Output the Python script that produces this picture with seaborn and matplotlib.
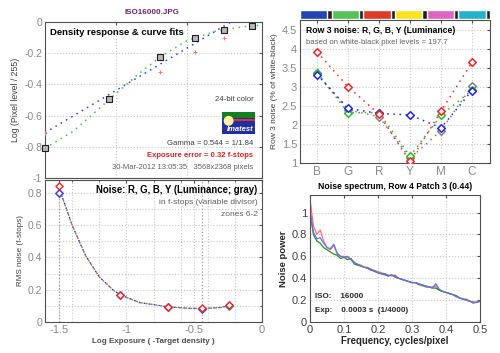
import numpy as np
import pandas as pd
import matplotlib
matplotlib.use("Agg")
import matplotlib.pyplot as plt
import matplotlib.patches as mpatches
import seaborn as sns

sns.set_style("white")
plt.rcParams['font.family'] = ['Liberation Sans', 'DejaVu Sans']
plt.rcParams['xtick.direction'] = 'in'
plt.rcParams['ytick.direction'] = 'in'

# ---- density response (top left) ----
dens_x = [-1.5, -1.05, -0.69, -0.44, -0.24, -0.04]
dens_y = [-0.81, -0.495, -0.225, -0.10, -0.05, -0.025]
target_x = [-1.5, -0.69, -0.44, -0.24]
target_y = [-0.71, -0.32, -0.195, -0.10]
gamma_x = [-1.5, -0.19]
gamma_y = [-0.71, 0.0]
fit_x = [-1.5, -1.3, -1.05, -0.85, -0.69, -0.5, -0.3, -0.1, 0.03]
fit_y = [-0.81, -0.70, -0.50, -0.34, -0.225, -0.12, -0.06, -0.03, -0.02]

# ---- row 3 noise (top right) ----
patches = ['B', 'G', 'R', 'Y', 'M', 'C']
patch_colors = ['#2445b5', '#55c255', '#e03a2a', '#fce31e', '#dc66c0', '#22b2cc']
row3_red = [3.91, 3.00, 2.28, 1.04, 2.36, 3.64]
row3_green = [3.37, 2.32, 2.32, 1.18, 2.25, 2.91]
row3_blue = [3.32, 2.43, 2.30, 2.26, 1.92, 2.90]
row3_lum = [3.35, 2.40, 2.21, 1.12, 1.85, 3.02]

# ---- noise in f-stops (bottom left) ----
zone_x = [-1.5, -1.05, -0.69, -0.44, -0.24]
fs_red = [0.84, 0.17, 0.094, 0.085, 0.104]
fs_green = [0.80, 0.17, 0.092, 0.082, 0.100]
fs_blue = [0.80, 0.168, 0.092, 0.083, 0.106]
fs_lum = [0.80, 0.167, 0.092, 0.082, 0.100]
curve_x = [-1.5, -1.4, -1.3, -1.2, -1.1, -1.05, -0.9, -0.69, -0.55, -0.44, -0.3, -0.24]
curve_y = [0.84, 0.60, 0.41, 0.28, 0.20, 0.17, 0.12, 0.094, 0.085, 0.083, 0.09, 0.104]

# ---- noise spectrum (bottom right) ----
freq = [0.00, 0.01, 0.02, 0.03, 0.04, 0.05, 0.06, 0.07, 0.08, 0.09,
        0.10, 0.11, 0.12, 0.13, 0.14, 0.15, 0.16, 0.17, 0.18, 0.19,
        0.20, 0.21, 0.22, 0.23, 0.24, 0.25, 0.26, 0.27, 0.28, 0.29,
        0.30, 0.31, 0.32, 0.33, 0.34, 0.35, 0.36, 0.37, 0.38, 0.39,
        0.40, 0.41, 0.42, 0.43, 0.44, 0.45, 0.46, 0.47, 0.48, 0.49, 0.50]
spec_red = [1.12, 0.88, 0.80, 0.84, 0.74, 0.68, 0.66, 0.70, 0.62, 0.60,
            0.60, 0.59, 0.58, 0.55, 0.52, 0.52, 0.50, 0.50, 0.48, 0.47,
            0.46, 0.45, 0.44, 0.43, 0.42, 0.43, 0.40, 0.39, 0.38, 0.37,
            0.36, 0.36, 0.35, 0.34, 0.33, 0.32, 0.32, 0.33, 0.29, 0.28,
            0.27, 0.26, 0.25, 0.24, 0.22, 0.21, 0.21, 0.19, 0.17, 0.18, 0.19]
spec_green = [1.00, 0.80, 0.74, 0.72, 0.68, 0.66, 0.64, 0.62, 0.61, 0.58,
              0.59, 0.57, 0.58, 0.53, 0.52, 0.51, 0.50, 0.49, 0.48, 0.46,
              0.45, 0.44, 0.44, 0.42, 0.43, 0.41, 0.40, 0.39, 0.38, 0.37,
              0.36, 0.36, 0.34, 0.34, 0.32, 0.32, 0.31, 0.31, 0.29, 0.28,
              0.27, 0.26, 0.25, 0.24, 0.22, 0.21, 0.20, 0.19, 0.18, 0.18, 0.19]
spec_blue = [1.02, 0.82, 0.76, 0.77, 0.72, 0.68, 0.67, 0.71, 0.63, 0.60,
             0.59, 0.60, 0.57, 0.54, 0.53, 0.51, 0.50, 0.49, 0.47, 0.47,
             0.45, 0.44, 0.43, 0.42, 0.43, 0.42, 0.40, 0.39, 0.38, 0.37,
             0.36, 0.36, 0.35, 0.33, 0.33, 0.32, 0.31, 0.35, 0.30, 0.28,
             0.27, 0.26, 0.25, 0.23, 0.22, 0.21, 0.20, 0.19, 0.18, 0.18, 0.19]

W, H = 500, 353
fig = plt.figure(figsize=(5.0, 3.53), dpi=100)
fig.patch.set_facecolor('white')


def px_axes(x0, y0, x1, y1):
    return fig.add_axes([x0 / W, (H - y1) / H, (x1 - x0) / W, (y1 - y0) / H])


def style_box(ax, labcol='#8a8a8a', size=7.5):
    for s in ax.spines.values():
        s.set_color('#505050')
        s.set_linewidth(0.8)
    ax.tick_params(which='both', top=True, right=True, color='#505050',
                   labelcolor=labcol, labelsize=size, length=2.5, pad=2)
    ax.tick_params(which='minor', length=1.5)


grid_kw = dict(color='#c8c8c8', linestyle=':', linewidth=0.8)
dot = (0, (1, 3))

# ================= top left =================
ax1 = px_axes(45, 22, 262, 178)
style_box(ax1)
ax1.set_xlim(-1.5, 0.03)
ax1.set_ylim(-1, 0)
ax1.set_xticks([-1, -0.5])
ax1.set_xticklabels([])
ax1.set_yticks([0, -0.2, -0.4, -0.6, -0.8, -1])
ax1.set_yticklabels(['0', '-0.2', '-0.4', '-0.6', '-0.8', '-1'])
ax1.grid(True, **grid_kw)
sns.lineplot(x=fit_x, y=fit_y, ax=ax1, color='#33cc33', linestyle=dot,
             linewidth=1.1, sort=False, estimator=None)
sns.lineplot(x=gamma_x, y=gamma_y, ax=ax1, color='#3333ff', linestyle=dot,
             linewidth=1.1, sort=False, estimator=None)
sns.scatterplot(x=target_x, y=target_y, ax=ax1, color='#ff7070', marker='+',
                s=6, linewidth=0.7, zorder=4)
sns.scatterplot(x=dens_x, y=dens_y, ax=ax1, marker='s', s=18, color='#b8b8b8',
                edgecolor='#202020', linewidth=0.8, zorder=5, clip_on=False)
ax1.set_ylabel('Log (Pixel level / 255)', fontsize=6.3, color='#404040', labelpad=3)
ax1.set_xlabel('')
ax1.text(0.025, 0.935, 'Density response & curve fits', transform=ax1.transAxes,
         fontsize=6.8, fontweight='bold', color='black', va='center')
ax1.text(0.96, 0.505, '24-bit color', transform=ax1.transAxes, fontsize=5.6,
         color='#404040', ha='right', va='center')
ax1.text(0.96, 0.22, 'Gamma = 0.544 = 1/1.84', transform=ax1.transAxes, fontsize=5.6,
         color='#404040', ha='right', va='center')
ax1.text(0.96, 0.145, 'Exposure error = 0.32 f-stops', transform=ax1.transAxes,
         fontsize=5.5, color='#e02020', fontweight='bold', ha='right', va='center')
ax1.text(0.96, 0.065, '30-Mar-2012 13:05:35   3568x2368 pixels', transform=ax1.transAxes,
         fontsize=5.5, color='#606060', ha='right', va='center')

# small logo badge
lx0, ly0, lw, lh = (222 - 45) / 217, (178 - 134) / 156, 33 / 217, 22 / 156
ax1.add_patch(mpatches.Rectangle((lx0, ly0), lw, lh, transform=ax1.transAxes,
                                 facecolor='#2030a0', edgecolor='none', zorder=6))
ax1.add_patch(mpatches.Rectangle((lx0, ly0 + lh * 0.72), lw, lh * 0.28, transform=ax1.transAxes,
                                 facecolor='#108020', edgecolor='none', zorder=6))
ax1.add_patch(mpatches.Rectangle((lx0 + lw * 0.15, ly0 + lh * 0.6), lw * 0.85, lh * 0.1,
                                 transform=ax1.transAxes, facecolor='#e03030',
                                 edgecolor='none', zorder=7))
ax1.add_patch(mpatches.Ellipse((lx0 + lw * 0.2, ly0 + lh * 0.6), lw * 0.3, lh * 0.45,
                               transform=ax1.transAxes, facecolor='#fff2a0',
                               edgecolor='none', zorder=8))
ax1.text(lx0 + lw * 0.55, ly0 + lh * 0.2, 'Imatest', transform=ax1.transAxes, fontsize=5.5,
         color='white', fontweight='bold', style='italic', ha='center', va='center', zorder=9)

fig.text(152 / W, 1 - 12 / H, 'ISO16000.JPG', fontsize=5.8, fontweight='bold',
         color='#702070', ha='center', va='center')

# ================= top right =================
ax2 = px_axes(300, 20, 490, 163)
style_box(ax2, size=8)
x_idx = list(range(len(patches)))
for vals, col in [(row3_lum, '#808080'), (row3_green, '#20c020'),
                  (row3_blue, '#2020ff'), (row3_red, '#ff2020')]:
    sns.lineplot(x=x_idx, y=vals, ax=ax2, color=col, linestyle=dot,
                 linewidth=1.1, sort=False, estimator=None)
    sns.scatterplot(x=x_idx, y=vals, ax=ax2, marker='D', s=15, facecolor='white',
                    edgecolor=col, linewidth=1.1, zorder=5)
ax2.set_xlim(-0.55, 5.58)
ax2.set_ylim(1, 4.75)
ax2.set_xticks(x_idx)
ax2.set_xticklabels(patches, fontsize=8.5)
ax2.set_yticks([1, 1.5, 2, 2.5, 3, 3.5, 4, 4.5])
ax2.set_yticklabels(['1', '1.5', '2', '2.5', '3', '3.5', '4', '4.5'])
ax2.grid(True, **grid_kw)
ax2.set_ylabel('Row 3 noise (% of white-black)', fontsize=6, color='#404040', labelpad=3)
ax2.text(0.03, 0.93, 'Row 3 noise: R, G, B, Y (Luminance)', transform=ax2.transAxes,
         fontsize=6.2, fontweight='bold', color='black', va='center')
ax2.text(0.03, 0.845, 'based on white-black pixel levels = 197.7', transform=ax2.transAxes,
         fontsize=5.6, color='#606060', va='center')

# patch colour strip
axc = px_axes(300, 10, 490, 19)
bar_df = pd.DataFrame({'patch': patches, 'h': [1] * 6})
sns.barplot(data=bar_df, x='patch', y='h', hue='patch', palette=patch_colors,
            ax=axc, width=0.86, legend=False, saturation=1)
axc.set_xlim(-0.5, 5.5)
axc.set_ylim(0, 1)
axc.axis('off')
axc.add_patch(mpatches.Rectangle((0, 0), 1, 1, transform=axc.transAxes,
                                 facecolor='#202020', zorder=0))
for b in axc.patches[:-1]:
    b.set_x(b.get_x() - 0.07)
    b.set_zorder(2)

# ================= bottom left =================
ax3 = px_axes(45, 180, 262, 322)
style_box(ax3)
ax3.set_xlim(-1.6, 0)
ax3.set_ylim(0, 0.88)
ax3.set_xticks([-1.5, -1, -0.5, 0])
ax3.set_xticklabels(['-1.5', '-1', '-0.5', '0'], fontsize=8)
ax3.set_xticks([-1.4, -1.2, -0.8, -0.6, -0.4, -0.2], minor=True)
ax3.set_yticks([0, 0.2, 0.4, 0.6, 0.8])
ax3.set_yticklabels(['0', '0.2', '0.4', '0.6', '0.8'])
ax3.set_yticks([0.1, 0.3, 0.5, 0.7], minor=True)
ax3.grid(True, which='both', **grid_kw)
ax3.axvline(-1.5, color='#a0a0a0', linestyle=':', linewidth=0.9)
ax3.axvline(-0.44, color='#a0a0a0', linestyle=':', linewidth=0.9)
for col, off in [('#808080', 1.5), ('#20c020', 0.7), ('#2020ff', 2.2), ('#ff4040', 0)]:
    sns.lineplot(x=curve_x, y=curve_y, ax=ax3, color=col, linestyle=(off, (1, 3)),
                 linewidth=0.9, sort=False, estimator=None)
for vals, col in [(fs_lum, '#808080'), (fs_green, '#20c020'),
                  (fs_blue, '#4040ff'), (fs_red, '#ff2020')]:
    sns.scatterplot(x=zone_x, y=vals, ax=ax3, marker='D', s=13, facecolor='white',
                    edgecolor=col, linewidth=1.0, zorder=5)
ax3.set_xlabel('Log Exposure ( -Target density )', fontsize=5.8, fontweight='bold',
               color='#505050', labelpad=2)
ax3.set_ylabel('RMS noise (f-stops)', fontsize=5.8, color='#404040', labelpad=3)
ax3.text(0.98, 0.93, 'Noise: R, G, B, Y (Luminance; gray)', transform=ax3.transAxes,
         fontsize=6.9, fontweight='bold', color='black', ha='right', va='center')
ax3.text(0.98, 0.84, 'in f-stops (variable divisor)', transform=ax3.transAxes,
         fontsize=6, color='#606060', ha='right', va='center')
ax3.text(0.98, 0.755, 'zones 6-2', transform=ax3.transAxes,
         fontsize=6, color='#606060', ha='right', va='center')

# ================= bottom right =================
ax4 = px_axes(310, 195, 480, 322)
style_box(ax4, labcol='#404040', size=8)
spec_df = pd.DataFrame({'freq': freq * 3,
                        'power': spec_red + spec_green + spec_blue,
                        'ch': ['R'] * len(freq) + ['G'] * len(freq) + ['B'] * len(freq)})
sns.lineplot(data=spec_df, x='freq', y='power', hue='ch', ax=ax4,
             palette={'R': '#ff7070', 'G': '#10a010', 'B': '#6a6aff'},
             hue_order=['R', 'G', 'B'], linewidth=0.9, legend=False, estimator=None)
ax4.set_xlim(0, 0.5)
ax4.set_ylim(0, 1.16)
ax4.set_xticks([0, 0.1, 0.2, 0.3, 0.4, 0.5])
ax4.set_xticklabels(['0', '0.1', '0.2', '0.3', '0.4', '0.5'])
ax4.set_yticks([0, 0.2, 0.4, 0.6, 0.8, 1])
ax4.set_yticklabels(['0', '0.2', '0.4', '0.6', '0.8', '1'])
ax4.grid(True, **grid_kw)
ax4.set_title('Noise spectrum, Row 4 Patch 3 (0.44)', fontsize=6.2, fontweight='bold',
              color='black', pad=4)
ax4.set_xlabel('Frequency, cycles/pixel', fontsize=6.9, fontweight='bold', labelpad=1)
ax4.set_ylabel('Noise power', fontsize=6.8, fontweight='bold', labelpad=3)
ax4.text(0.03, 0.2, 'ISO:    16000', transform=ax4.transAxes, fontsize=5.8,
         fontweight='bold', va='center')
ax4.text(0.03, 0.09, 'Exp:    0.0003 s  (1/4000)', transform=ax4.transAxes, fontsize=5.8,
         fontweight='bold', va='center')

fig.savefig('out.png', dpi=100)
